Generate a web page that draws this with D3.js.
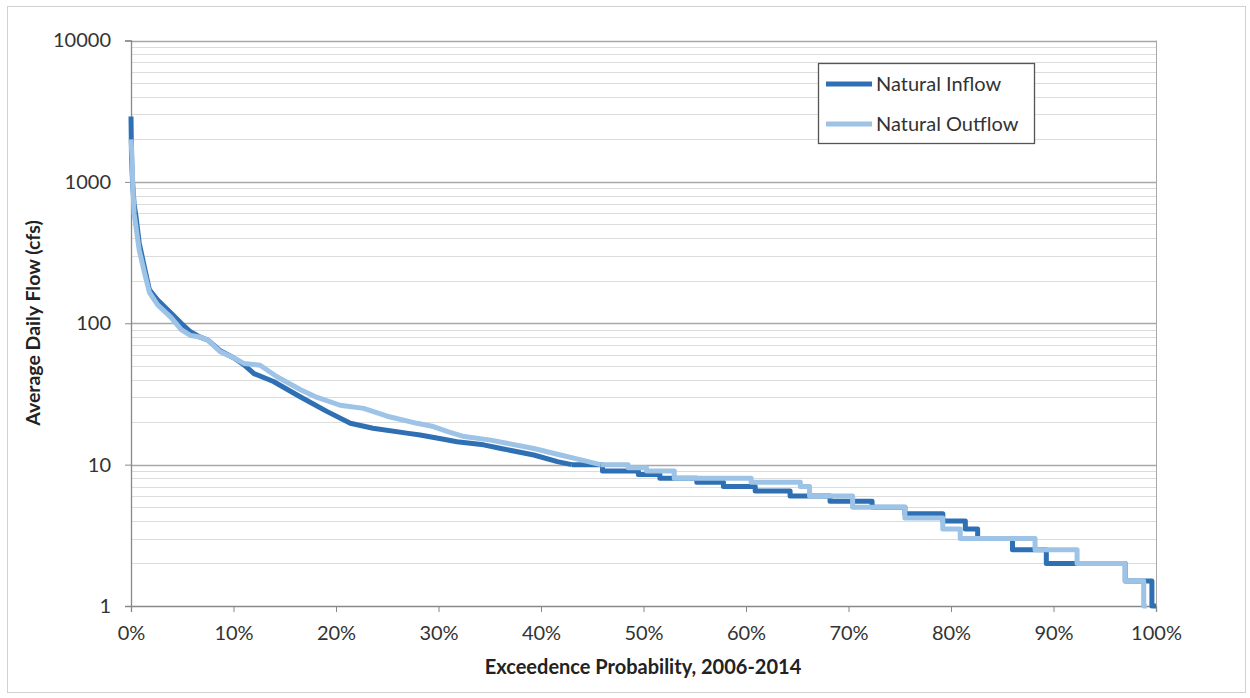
<!DOCTYPE html>
<meta charset="utf-8">
<style>
  body { margin: 0; background: #fff; }
  text { font-family: Lato, "Open Sans", sans-serif; fill: #333; }
  .title { font-weight: bold; fill: #222; }
</style>
<script src="https://d3js.org/d3.v7.min.js"></script>
<div id="chart"></div>
<script>
  // exceedence probability (%) and flow (cfs), smooth upper part of each curve
  var inflowHeadP = [0, 0.05, 0.15, 0.3, 0.5, 0.8, 1.3, 1.8, 2.6, 3.3, 3.9, 4.9, 5.8, 6.7, 7.5, 8.7, 10, 11, 12, 13.9, 16.5, 19.1, 21.4, 23.6, 26.9, 28.2, 30.1, 31.8, 34.4, 36.1, 39.3, 41.6, 43];
  var inflowHeadV = [2900, 1500, 1000, 700, 560, 370, 251, 172, 146, 130, 118, 100, 87, 80, 76, 64, 57, 51, 44, 38.7, 30.2, 23.8, 19.6, 18.1, 16.7, 16.2, 15.3, 14.5, 13.8, 13, 11.7, 10.5, 10];
  // stepped lower part: each value holds until the next probability
  var inflowStepP = [43, 46, 49.5, 51.6, 55.2, 57.8, 60.9, 64.3, 68.2, 72.3, 75.5, 79.2, 81.4, 82.6, 86, 89.3, 97, 99.6, 100];
  var inflowStepV = [10, 9, 8.5, 8, 7.5, 7, 6.5, 6, 5.5, 5, 4.5, 4, 3.5, 3, 2.5, 2, 1.5, 1, 1];

  var outflowHeadP = [0, 0.1, 0.16, 0.3, 0.8, 1.3, 1.8, 2.6, 3.9, 4.9, 5.8, 6.7, 7.5, 8.7, 10, 11, 12.6, 14.2, 16.5, 18.1, 20.4, 22.7, 25, 27.9, 29.5, 30.9, 32.5, 35.1, 39.3, 41.9, 43.9, 45.8];
  var outflowHeadV = [2000, 1500, 1000, 600, 330, 230, 165, 135, 110, 90, 82, 80, 76, 63, 57, 52, 50.5, 42, 34, 30, 26.3, 25, 22, 19.6, 18.6, 17.1, 15.8, 14.9, 13, 11.7, 10.8, 10];
  var outflowStepP = [45.8, 48.5, 50.3, 53, 60.5, 65.3, 66.2, 70.4, 75.5, 79.2, 80.9, 88.2, 92.3, 97, 98.8, 99.1];
  var outflowStepV = [10, 9.5, 9, 8, 7.5, 7, 6, 5, 4.2, 3.5, 3, 2.5, 2, 1.5, 1, 1];

  var xTicks = [0, 10, 20, 30, 40, 50, 60, 70, 80, 90, 100];
  var yTicks = [1, 10, 100, 1000, 10000];

  var series = [
    { name: "Natural Inflow", color: "#2e70b3", headP: inflowHeadP, headV: inflowHeadV, stepP: inflowStepP, stepV: inflowStepV },
    { name: "Natural Outflow", color: "#9dc3e6", headP: outflowHeadP, headV: outflowHeadV, stepP: outflowStepP, stepV: outflowStepV }
  ];

  var width = 1250, height = 698;
  var plotLeft = 131, plotRight = 1156, plotTop = 40.5, plotBottom = 606;

  var svg = d3.select("#chart").append("svg")
    .attr("width", width)
    .attr("height", height);

  // outer frame
  svg.append("rect")
    .attr("x", 7.5).attr("y", 6.5)
    .attr("width", 1238).attr("height", 686)
    .attr("fill", "none")
    .attr("stroke", "#d0d0d0");

  var x = d3.scaleLinear().domain([0, 100]).range([plotLeft, plotRight]);
  var y = d3.scaleLog().domain([1, 10000]).range([plotBottom, plotTop]);

  // minor gridlines (2..9 in each decade)
  var minor = [];
  yTicks.slice(0, -1).forEach(function(d) {
    for (var k = 2; k <= 9; k++) minor.push(d * k);
  });
  svg.append("g").selectAll("line")
    .data(minor)
    .enter().append("line")
      .attr("x1", plotLeft).attr("x2", plotRight)
      .attr("y1", function(d) { return Math.round(y(d)) + 0.5; })
      .attr("y2", function(d) { return Math.round(y(d)) + 0.5; })
      .attr("stroke", "#dcdcdc");

  // major gridlines
  svg.append("g").selectAll("line")
    .data(yTicks.slice(1))
    .enter().append("line")
      .attr("x1", plotLeft).attr("x2", plotRight)
      .attr("y1", function(d) { return Math.round(y(d)) + 0.5; })
      .attr("y2", function(d) { return Math.round(y(d)) + 0.5; })
      .attr("stroke", "#a8a8a8")
      .attr("stroke-width", 1.3);

  // right border of plot area
  svg.append("line")
    .attr("x1", plotRight + 0.5).attr("x2", plotRight + 0.5)
    .attr("y1", y(10000)).attr("y2", y(1))
    .attr("stroke", "#a8a8a8");

  // axes
  var yAxis = svg.append("g")
    .attr("transform", "translate(" + plotLeft + ",0)")
    .call(d3.axisLeft(y).tickValues(yTicks).tickFormat(d3.format("d")).tickSize(6).tickPadding(14));
  var xAxis = svg.append("g")
    .attr("transform", "translate(0," + plotBottom + ")")
    .call(d3.axisBottom(x).tickValues(xTicks).tickFormat(function(d) { return d + "%"; }).tickSize(6).tickPadding(14));

  [yAxis, xAxis].forEach(function(a) {
    a.select(".domain").attr("stroke", "#888").attr("stroke-width", 1.3);
    a.selectAll(".tick line").attr("stroke", "#888");
    a.selectAll(".tick text")
      .style("font-family", "Lato, 'Open Sans', sans-serif")
      .style("font-size", "20px")
      .attr("fill", "#333");
  });

  // curves: smooth head + stepped tail
  var smooth = d3.line()
    .x(function(d) { return x(d[0]); })
    .y(function(d) { return y(d[1]); });
  var stepped = d3.line()
    .curve(d3.curveStepAfter)
    .x(function(d) { return x(d[0]); })
    .y(function(d) { return y(d[1]); });

  series.forEach(function(s) {
    var head = d3.zip(s.headP, s.headV);
    var tail = d3.zip(s.stepP, s.stepV);
    var g = svg.append("g")
      .attr("fill", "none")
      .attr("stroke", s.color)
      .attr("stroke-width", 5)
      .attr("stroke-linejoin", "round");
    g.append("path").attr("d", smooth(head));
    g.append("path").attr("d", stepped(tail));
  });

  // legend
  var legend = svg.append("g");
  legend.append("rect")
    .attr("x", 818.5).attr("y", 63.5)
    .attr("width", 216).attr("height", 80)
    .attr("fill", "#fff")
    .attr("stroke", "#555")
    .attr("stroke-width", 1.3);
  series.forEach(function(s, i) {
    var ly = 84 + i * 40;
    legend.append("line")
      .attr("x1", 826).attr("x2", 872)
      .attr("y1", ly).attr("y2", ly)
      .attr("stroke", s.color)
      .attr("stroke-width", 5);
    legend.append("text")
      .attr("x", 876).attr("y", ly + 7)
      .style("font-size", "20px")
      .attr("fill", "#222")
      .text(s.name);
  });

  // axis titles
  svg.append("text")
    .attr("class", "title")
    .attr("x", 643).attr("y", 674)
    .attr("text-anchor", "middle")
    .style("font-size", "20px")
    .text("Exceedence Probability, 2006-2014");

  svg.append("text")
    .attr("class", "title")
    .attr("transform", "translate(40,323) rotate(-90)")
    .attr("text-anchor", "middle")
    .style("font-size", "19.5px")
    .text("Average Daily Flow (cfs)");
</script>
